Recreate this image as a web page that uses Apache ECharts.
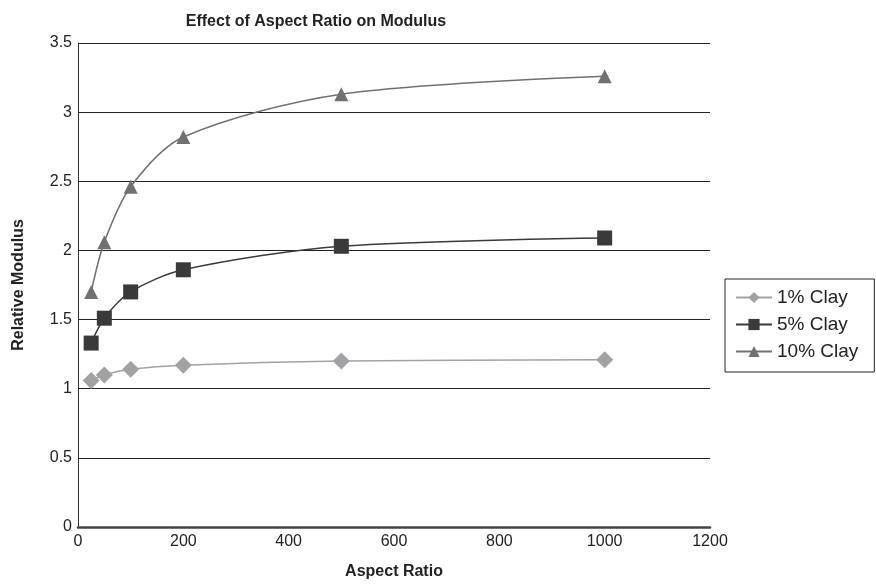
<!DOCTYPE html>
<html><head><meta charset="utf-8">
<script src="https://cdn.jsdelivr.net/npm/echarts@6/dist/echarts.min.js"></script>
<style>html,body{margin:0;padding:0;background:#fff}#c{width:876px;height:588px}</style>
</head><body><div id="c"></div>
<script>
var aspectRatio = [25, 50, 100, 200, 500, 1000];
var clay1 = [1.06, 1.10, 1.14, 1.17, 1.20, 1.21];
var clay5 = [1.33, 1.51, 1.70, 1.86, 2.03, 2.09];
var clay10 = [1.70, 2.06, 2.46, 2.82, 3.13, 3.26];
var seriesNames = ['1% Clay', '5% Clay', '10% Clay'];

function pairs(v){ return aspectRatio.map(function(x,i){return [x, v[i]];}); }
var FONT = '"Liberation Sans", Arial, sans-serif';
var chart = echarts.init(document.getElementById('c'));
chart.setOption({
  animation: false,
  backgroundColor: '#fff',
  textStyle: {fontFamily: FONT},
  title: {text: 'Effect of Aspect Ratio on Modulus', left: 311, top: 9, textAlign: 'center',
    textStyle: {fontFamily: FONT, fontSize: 16, fontWeight: 'bold', color: '#222'}},
  grid: {left: 78, right: 166, top: 43, bottom: 61, containLabel: false, outerBoundsMode: 'none'},
  legend: {
    orient: 'vertical', left: 725, top: 279, padding: [9, 16, 11, 10],
    borderColor: '#222', borderWidth: 1, borderRadius: 0, itemGap: 8, itemWidth: 36, itemHeight: 14,
    textStyle: {fontFamily: FONT, fontSize: 19, color: '#222'},
    data: seriesNames
  },
  xAxis: {
    type: 'value', min: 0, max: 1200, interval: 200,
    axisLine: {lineStyle: {color: '#444', width: 2.5}},
    axisTick: {show: false},
    splitLine: {show: false},
    axisLabel: {fontFamily: FONT, fontSize: 16, color: '#222', margin: 7, formatter: function(v){return String(v);}},
    name: 'Aspect Ratio', nameLocation: 'middle', nameGap: 37,
    nameTextStyle: {fontFamily: FONT, fontSize: 16, fontWeight: 'bold', color: '#222'}
  },
  yAxis: {
    type: 'value', min: 0, max: 3.5, interval: 0.5,
    axisLine: {show: true, lineStyle: {color: '#333', width: 1}},
    axisTick: {show: false},
    splitLine: {lineStyle: {color: '#222', width: 1}},
    axisLabel: {fontFamily: FONT, fontSize: 16, color: '#222', margin: 6},
    name: 'Relative Modulus', nameLocation: 'middle', nameGap: 51,
    nameTextStyle: {fontFamily: FONT, fontSize: 16, fontWeight: 'bold', color: '#222'}
  },
  series: [
    {name: seriesNames[0], type: 'line', smooth: 0.3, data: pairs(clay1),
     symbol: 'diamond', symbolSize: 17, color: '#a2a2a4', lineStyle: {width: 1.5, color: '#a2a2a4'}},
    {name: seriesNames[1], type: 'line', smooth: 0.3, data: pairs(clay5),
     symbol: 'rect', symbolSize: 15, color: '#3a3a3a', lineStyle: {width: 1.5, color: '#3a3a3a'}},
    {name: seriesNames[2], type: 'line', smooth: 0.3, data: pairs(clay10),
     symbol: 'triangle', symbolSize: 14, color: '#707072', lineStyle: {width: 1.5, color: '#707072'}}
  ]
});
</script></body></html>
